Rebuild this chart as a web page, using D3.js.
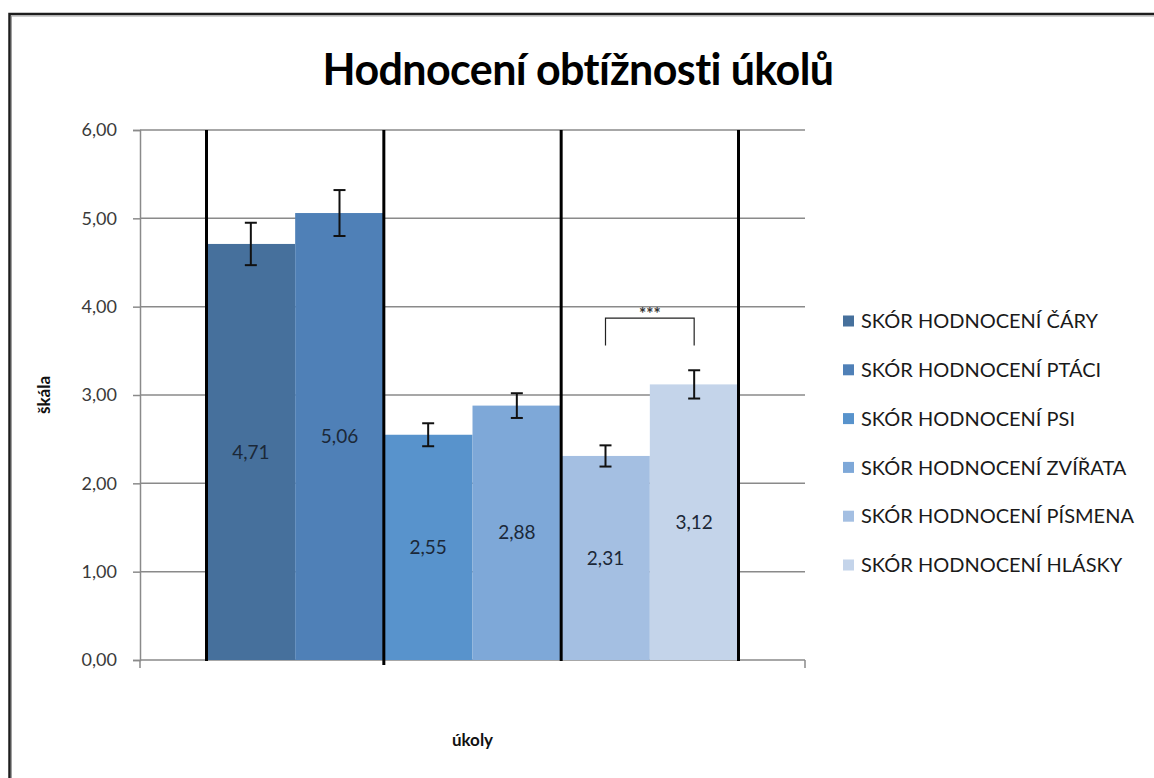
<!DOCTYPE html>
<html>
<head>
<meta charset="utf-8">
<script src="https://cdn.jsdelivr.net/npm/d3@7"></script>
<style>
  body { margin: 0; background: #fff; }
  svg text { font-family: Lato, "Open Sans", sans-serif; }
</style>
</head>
<body>
<svg id="chart" width="1154" height="778"></svg>
<script>
// data
const title = "Hodnocení obtížnosti úkolů";
const series = [
  "SKÓR HODNOCENÍ ČÁRY",
  "SKÓR HODNOCENÍ PTÁCI",
  "SKÓR HODNOCENÍ PSI",
  "SKÓR HODNOCENÍ ZVÍŘATA",
  "SKÓR HODNOCENÍ PÍSMENA",
  "SKÓR HODNOCENÍ HLÁSKY"
];
const values = [4.71, 5.06, 2.55, 2.88, 2.31, 3.12];
const errors = [0.24, 0.26, 0.13, 0.14, 0.12, 0.16];
const colors = ["#46709c", "#4f80b7", "#5893cc", "#7ea8d8", "#a4bfe2", "#c4d4ea"];
const yTicks = [0, 1, 2, 3, 4, 5, 6];
// black separators, drawn after this many bars
const dividers = [0, 2, 4, 6];
// significance bracket between bars 5 and 6
const bracketBars = [4, 5];
const bracketLevels = [3.87, 3.56];
const bracketLabel = "***";

const width = 1154, height = 778;
const plot = {left: 140, right: 805, top: 130, bottom: 660};

let svg = d3.select("#chart");
let fmt = d3.formatLocale({decimal: ",", thousands: " ", grouping: [3], currency: ["", ""]}).format(".2f");

svg.append("rect").attr("width", width).attr("height", height).attr("fill", "#fff");

// chart frame (cut off on the right and bottom)
svg.append("rect")
    .attr("x", 9.5).attr("y", 14)
    .attr("width", 1300).attr("height", 900)
    .attr("fill", "none")
    .attr("stroke", "#1e1e1e")
    .attr("stroke-width", 2.5);
svg.append("rect")
    .attr("x", 11.5).attr("y", 16)
    .attr("width", 1300).attr("height", 900)
    .attr("fill", "none")
    .attr("stroke", "#a0a0a0")
    .attr("stroke-width", 1);

let yScale = d3.scaleLinear().domain([0, 6]).range([plot.bottom, plot.top]);

let x0 = d3.scaleBand()
    .domain(["úkoly"])
    .range([plot.left, plot.right])
    .paddingOuter(0.125);

let x1 = d3.scaleBand()
    .domain(d3.range(series.length))
    .range([x0("úkoly"), x0("úkoly") + x0.bandwidth()]);

// gridlines
svg.append("g")
    .selectAll("line")
    .data(yTicks.filter(d => d > 0))
    .join("line")
    .attr("x1", plot.left).attr("x2", plot.right)
    .attr("y1", d => yScale(d)).attr("y2", d => yScale(d))
    .attr("stroke", "#8a8a8a")
    .attr("stroke-width", 1.5);

// y axis
let yAxis = svg.append("g")
    .attr("transform", "translate(" + plot.left + ",0)")
    .call(d3.axisLeft(yScale).tickValues(yTicks).tickSize(7).tickPadding(16).tickFormat(fmt));
yAxis.select(".domain").attr("stroke", "#8a8a8a").attr("stroke-width", 1.5);
yAxis.selectAll(".tick line").attr("stroke", "#8a8a8a").attr("stroke-width", 1.5);
yAxis.selectAll("text")
    .style("font-size", "18px")
    .style("fill", "#3a3a3a");

// x axis line with end ticks
svg.append("line")
    .attr("x1", plot.left).attr("x2", plot.right)
    .attr("y1", plot.bottom).attr("y2", plot.bottom)
    .attr("stroke", "#8a8a8a").attr("stroke-width", 1.5);
svg.append("g")
    .selectAll("line")
    .data([plot.left, plot.right])
    .join("line")
    .attr("x1", d => d).attr("x2", d => d)
    .attr("y1", plot.bottom).attr("y2", plot.bottom + 8)
    .attr("stroke", "#8a8a8a").attr("stroke-width", 1.5);

// bars
svg.append("g")
    .selectAll("rect")
    .data(values)
    .join("rect")
    .attr("x", (d, i) => x1(i))
    .attr("width", x1.bandwidth())
    .attr("y", d => yScale(d))
    .attr("height", d => yScale(0) - yScale(d))
    .attr("fill", (d, i) => colors[i]);

// black separators
svg.append("g")
    .selectAll("line")
    .data(dividers)
    .join("line")
    .attr("x1", d => x1.range()[0] + d * x1.step())
    .attr("x2", d => x1.range()[0] + d * x1.step())
    .attr("y1", yScale(6))
    .attr("y2", (d, i) => yScale(0) + (i == 1 ? 5 : 1))
    .attr("stroke", "#000")
    .attr("stroke-width", 3);

// error bars
let err = svg.append("g").attr("stroke", "#111").attr("stroke-width", 2);
values.forEach(function(v, i) {
    let cx = x1(i) + x1.bandwidth() / 2;
    err.append("line")
        .attr("x1", cx).attr("x2", cx)
        .attr("y1", yScale(v + errors[i])).attr("y2", yScale(v - errors[i]));
    [v + errors[i], v - errors[i]].forEach(function(e) {
        err.append("line")
            .attr("x1", cx - 6).attr("x2", cx + 6)
            .attr("y1", yScale(e)).attr("y2", yScale(e));
    });
});

// value labels in the middle of the bars
svg.append("g")
    .selectAll("text")
    .data(values)
    .join("text")
    .attr("x", (d, i) => x1(i) + x1.bandwidth() / 2)
    .attr("y", d => yScale(d / 2))
    .attr("dy", "0.35em")
    .attr("text-anchor", "middle")
    .style("font-size", "19px")
    .style("fill", "#1b2838")
    .text(d => fmt(d));

// significance bracket
let bx = bracketBars.map(i => x1(i) + x1.bandwidth() / 2);
svg.append("path")
    .attr("d", "M" + bx[0] + "," + yScale(bracketLevels[1]) +
               "V" + yScale(bracketLevels[0]) +
               "H" + bx[1] +
               "V" + yScale(bracketLevels[1]))
    .attr("fill", "none")
    .attr("stroke", "#222")
    .attr("stroke-width", 1.2);
svg.append("text")
    .attr("x", (bx[0] + bx[1]) / 2)
    .attr("y", yScale(bracketLevels[0]) + 2)
    .attr("text-anchor", "middle")
    .style("font-size", "17px")
    .style("font-weight", "bold")
    .style("fill", "#333")
    .text(bracketLabel);

// title
svg.append("text")
    .attr("x", 578)
    .attr("y", 85)
    .attr("text-anchor", "middle")
    .style("font-size", "43px")
    .style("font-weight", "bold")
    .style("letter-spacing", "-0.6px")
    .style("fill", "#000")
    .text(title);

// axis titles
svg.append("text")
    .attr("transform", "translate(50," + ((plot.top + plot.bottom) / 2) + ") rotate(-90)")
    .attr("text-anchor", "middle")
    .style("font-size", "17px")
    .style("font-weight", "bold")
    .style("fill", "#111")
    .text("škála");

svg.append("text")
    .attr("x", (plot.left + plot.right) / 2)
    .attr("y", 746)
    .attr("text-anchor", "middle")
    .style("font-size", "17px")
    .style("font-weight", "bold")
    .style("fill", "#111")
    .text("úkoly");

// legend
let legend = svg.append("g")
    .selectAll("g")
    .data(series)
    .join("g")
    .attr("transform", (d, i) => "translate(843," + (321 + i * 48.8) + ")");
legend.append("rect")
    .attr("x", 0).attr("y", -5.5)
    .attr("width", 11).attr("height", 11)
    .attr("fill", (d, i) => colors[i]);
legend.append("text")
    .attr("x", 18)
    .attr("dy", "0.36em")
    .style("font-size", "20px")
    .style("fill", "#1a1a1a")
    .text(d => d);
</script>
</body>
</html>
